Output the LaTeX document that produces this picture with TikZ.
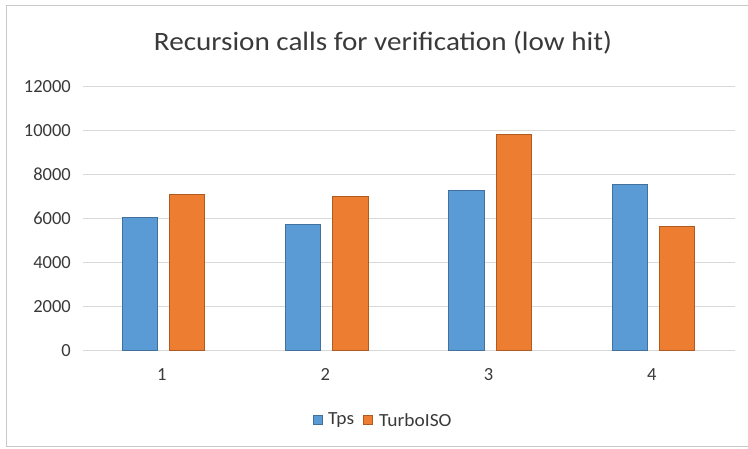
\documentclass[tikz,border=0pt]{standalone}
\usepackage{fontspec}
\setmainfont{Carlito}
\definecolor{tpsfill}{HTML}{5B9BD5}
\definecolor{tpsedge}{HTML}{41719C}
\definecolor{turbofill}{HTML}{ED7D31}
\definecolor{turboedge}{HTML}{AE5A21}
\definecolor{gridgray}{HTML}{D9D9D9}
\definecolor{framegray}{HTML}{C8C8C8}
\definecolor{labeltext}{HTML}{3A3A3A}
\begin{document}
\begin{tikzpicture}[x=1pt,y=-1pt,
  gridline/.style={gridgray,line width=1.1pt},
  ticklabel/.style={anchor=east,inner sep=0pt,text=labeltext,font=\fontsize{18.5}{20}\selectfont},
  catlabel/.style={inner sep=0pt,text=labeltext,font=\fontsize{18.5}{20}\selectfont},
  tpsbar/.style={fill=tpsfill,draw=tpsedge,line width=0.8pt},
  turbobar/.style={fill=turbofill,draw=turboedge,line width=0.8pt},
  legendtext/.style={anchor=west,inner sep=0pt,xscale=1.05,text=labeltext,font=\fontsize{18.5}{20}\selectfont}]
\useasboundingbox (0,0) rectangle (748,449);
\fill[white] (0,0) rectangle (748,449);
% chart frame (open on the right)
\draw[framegray,line width=1pt] (749,6) -- (6,6) -- (6,446.5) -- (749,446.5);
% title
\node[inner sep=0pt,xscale=1.1,text=labeltext,font=\fontsize{26.5}{30}\selectfont] (title) at (383,43) {Recursion calls for verification (low hit)};
% value axis: gridlines and labels, 22 px per 1000
\foreach \v in {0,2000,...,12000}{
  \pgfmathsetmacro{\yy}{350.7-0.022*\v}
  \draw[gridline] (83,\yy) -- (735,\yy);
  \node[ticklabel] (tick\v) at (71,\yy) {\v};
}
% bars per category: centre, Tps value, TurboISO value
\foreach \i/\c/\a/\b in {1/163.4/6080/7090, 2/326.7/5730/7000, 3/490.0/7300/9820, 4/653.3/7560/5670}{
  \pgfmathsetmacro{\ya}{350.7-0.022*\a}
  \pgfmathsetmacro{\yb}{350.7-0.022*\b}
  \draw[tpsbar] (\c-41.4,350.7) rectangle (\c-5.9,\ya);
  \draw[turbobar] (\c+5.9,350.7) rectangle (\c+41.4,\yb);
  \node[catlabel] (cat\i) at (\c-1.5,374.5) {\i};
}
% legend
\draw[tpsbar] (313,415) rectangle (322.5,424.5);
\node[legendtext] (legtps) at (328,420) {Tps};
\draw[turbobar] (363,415) rectangle (372.5,424.5);
\node[legendtext] (legturbo) at (379,420) {TurboISO};
\end{tikzpicture}
\end{document}
